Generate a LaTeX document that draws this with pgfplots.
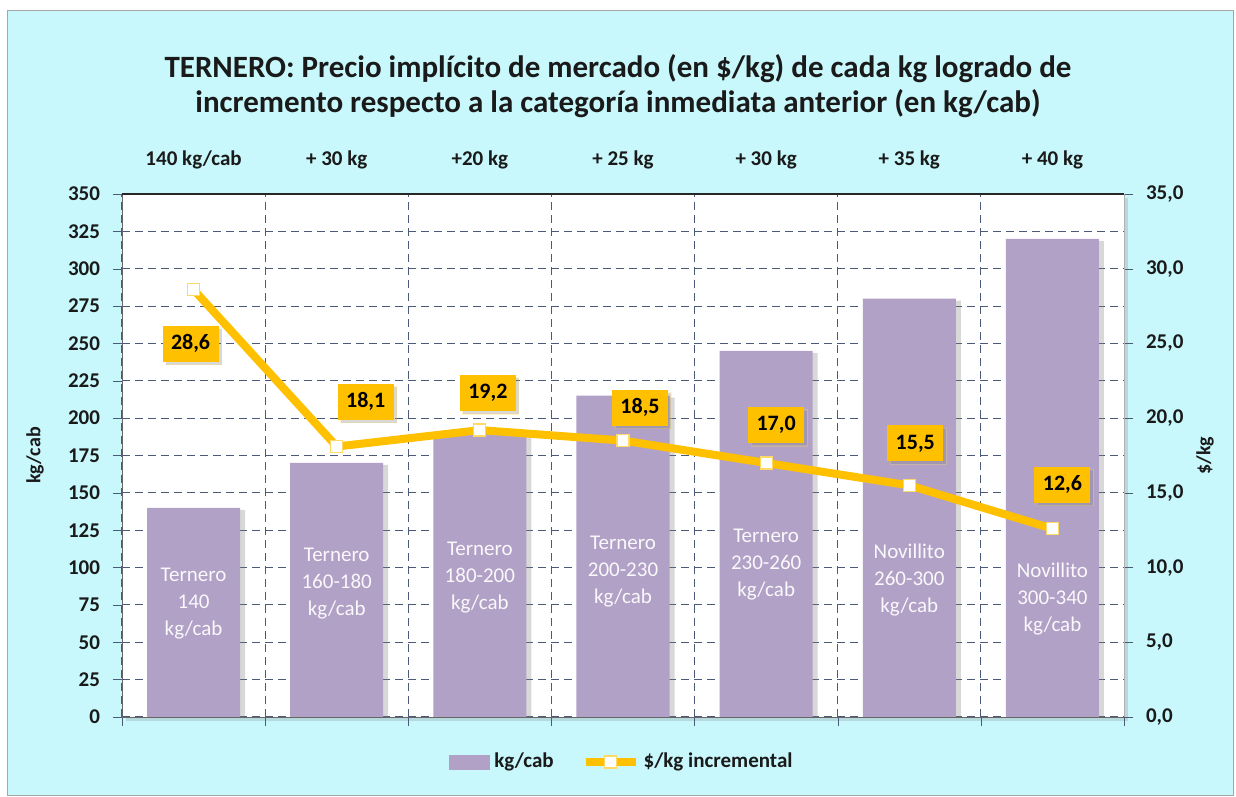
\documentclass[border=0pt]{standalone}
\usepackage{fontspec}
\setmainfont{Carlito}
\usepackage{pgfplots}
\pgfplotsset{compat=1.18}
\usepackage{pgfplotstable}
\usetikzlibrary{shadows}

\definecolor{fondo}{HTML}{C8F8FC}
\definecolor{lila}{HTML}{B2A1C7}
\definecolor{oro}{HTML}{FFC000}
\definecolor{grilla}{HTML}{4A5A78}
\definecolor{texto}{HTML}{1A1A1A}

% kg/cab por categoria, y donde va el rotulo blanco dentro de la barra
\pgfplotstableread{
x kg ly rng
0 140 75.6 140
1 170 89 160-180
2 190 93 180-200
3 215 97 200-230
4 245 102 230-260
5 280 92 260-300
6 320 79 300-340
}\kgcab

% $/kg incremental, con el desplazamiento (pt) de cada etiqueta
\pgfplotstableread{
x pk dx dy
0 28.6 -1.5 -27
1 18.1 14.5 22.5
2 19.2 4 18.5
3 18.5 8.5 16.5
4 17.0 5 19
5 15.5 3 21
6 12.6 5 22
}\precio

\begin{document}
\begin{tikzpicture}
\useasboundingbox (-61pt,-40pt) rectangle (557pt,358.5pt);
\fill[white] (-61pt,-40pt) rectangle (557pt,358.5pt);
\draw[fondo, fill=fondo, draw=gray!70] (-57.5pt,-39pt) rectangle (555.5pt,353.5pt);

\pgfplotsset{
  comun/.style={
    scale only axis, width=501pt, height=261.5pt,
    xmin=-0.5, xmax=6.5,
    tick align=outside, major tick length=4.5pt, minor tick length=4.5pt,
    ticklabel style={font=\bfseries\fontsize{10.5}{12}\selectfont, text=texto},
    /pgf/number format/assume math mode=true,
  },
  lineleg/.style={legend image code/.code={\draw[mark repeat=2, mark phase=2, ##1] plot coordinates {(0pt,0pt) (12.5pt,0pt) (25pt,0pt)};}},
  rotulo/.style={draw=none, mark=none, point meta=explicit symbolic,
    every node near coord/.append style={anchor=center, align=center,
      text=white!92!lila, font=\fontsize{10.5}{13.5}\selectfont}},
}

\begin{axis}[comun,
  ymin=0, ymax=350, ytick={0,25,...,350}, ytick pos=left,
  xtick={0,...,6}, xticklabel pos=upper, xtick pos=lower,
  xticklabels={140 kg/cab, + 30 kg, +20 kg, + 25 kg, + 30 kg, + 35 kg, + 40 kg},
  xticklabel style={anchor=base, yshift=9.5pt},
  major x tick style={draw=none},
  minor xtick={-0.5,0.5,...,6.5},
  minor x tick style={grilla},
  major y tick style={grilla},
  ymajorgrids, xminorgrids,
  grid style={grilla, dash pattern=on 4pt off 2.5pt, line width=0.5pt},
  minor grid style={grilla, dash pattern=on 4pt off 2.5pt, line width=0.5pt},
  axis line style={gray!80!black},
  axis background/.style={fill=white, drop shadow={shadow xshift=2pt, shadow yshift=-2pt, opacity=0.25}},
  yticklabel style={xshift=-3pt},
]
\addplot[ybar, bar width=0.65, fill=lila, draw=none,
  drop shadow={shadow xshift=2.5pt, shadow yshift=-1pt, opacity=0.3}]
  table[x=x, y=kg]{\kgcab};
\addplot[rotulo, restrict x to domain=0:4,
  nodes near coords={Ternero\\\pgfplotspointmeta\\kg/cab}]
  table[x=x, y=ly, meta=rng]{\kgcab};
\addplot[rotulo, restrict x to domain=5:6,
  nodes near coords={Novillito\\\pgfplotspointmeta\\kg/cab}]
  table[x=x, y=ly, meta=rng]{\kgcab};
\draw[black!85, line width=0.8pt] (rel axis cs:0,1) -- (rel axis cs:1,1);
\end{axis}

\begin{axis}[comun,
  ymin=0, ymax=35, ytick={0,5,...,35},
  axis x line=none, axis y line*=right,
  axis line style={gray!60},
  major y tick style={grilla},
  yticklabel style={xshift=3pt},
  /pgf/number format/fixed, /pgf/number format/fixed zerofill,
  /pgf/number format/precision=1, /pgf/number format/use comma,
  legend style={at={(0.5,0)}, anchor=center, yshift=-22.5pt, draw=none, fill=none,
    font=\bfseries\fontsize{10.5}{12}\selectfont, text=texto,
    /tikz/every even column/.append style={column sep=12pt}},
  legend columns=2,
]
\addlegendimage{legend image code/.code={\fill[lila] (0pt,-3.5pt) rectangle (20pt,3.5pt);}}
\addlegendentry{kg/cab}
\addplot[oro, line width=4pt, mark=square*, mark size=3pt,
  mark options={fill=white, draw=oro!60!white, line width=0.6pt},
  lineleg,
  visualization depends on={\thisrow{dx} \as \dx},
  visualization depends on={\thisrow{dy} \as \dy},
  nodes near coords,
  every node near coord/.append style={anchor=center, fill=oro, text=black,
    font=\bfseries\fontsize{11}{12}\selectfont, minimum width=28pt, minimum height=18pt,
    inner sep=2pt, xshift=\dx pt, yshift=\dy pt,
    drop shadow={shadow xshift=1.5pt, shadow yshift=-1.5pt, opacity=0.3}}]
  table[x=x, y=pk]{\precio};
\addlegendentry{\$/kg incremental}
\end{axis}

\node[font=\bfseries\fontsize{15.5}{17.5}\selectfont, align=center, text=texto] at (248pt,315.5pt)
  {TERNERO: Precio implícito de mercado (en \$/kg) de cada kg logrado de\\
   incremento respecto a la categoría inmediata anterior (en kg/cab)};
\node[rotate=90, font=\bfseries\fontsize{10}{12}\selectfont, text=texto] at (-43.5pt,130.75pt) {kg/cab};
\node[rotate=90, font=\bfseries\fontsize{10}{12}\selectfont, text=texto] at (541.5pt,130.75pt) {\$/kg};
\end{tikzpicture}
\end{document}
